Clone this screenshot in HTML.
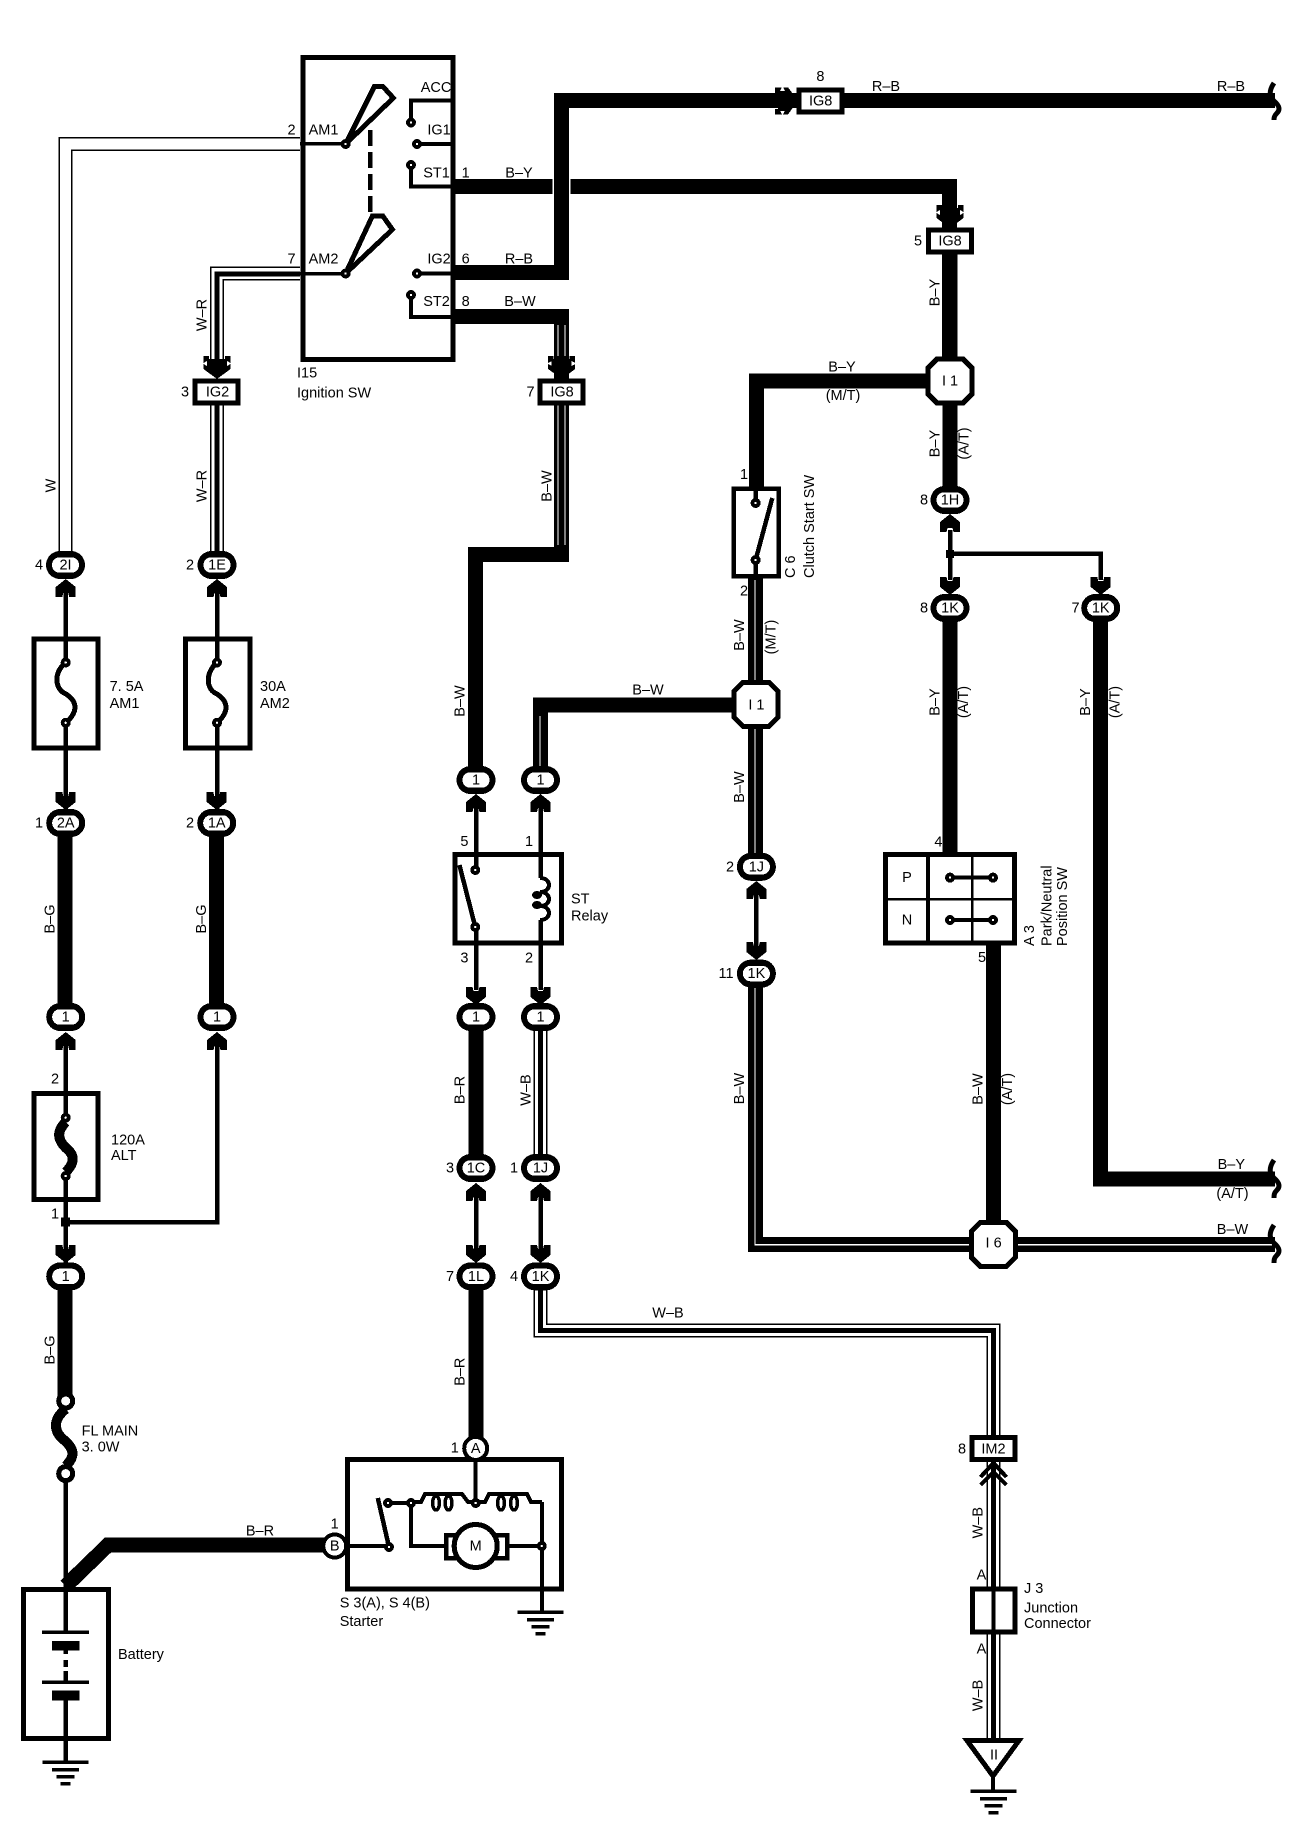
<!DOCTYPE html>
<html><head><meta charset="utf-8"><style>
html,body{margin:0;padding:0;background:#fff}
svg{display:block}
text{font-family:"Liberation Sans",sans-serif;font-size:14.5px;fill:#000;stroke:none;text-anchor:middle;dominant-baseline:central}
text.l{text-anchor:start}
.n{fill:none;stroke:#000;stroke-linejoin:miter}
.th{stroke-width:4.5}
.k{stroke-width:15}
.o{stroke-width:14}
.w{fill:none;stroke:#fff;stroke-width:11;stroke-linejoin:miter}
.c{stroke-width:5}
.s{fill:none;stroke:#fff;stroke-width:1.4;stroke-linejoin:miter}
.b{fill:#fff;stroke:#000;stroke-width:5}
</style></head><body>
<svg xmlns="http://www.w3.org/2000/svg" width="1312" height="1830" viewBox="0 0 1312 1830" shape-rendering="crispEdges">
<defs>
<g id="au"><polygon fill="#000" points="0,0 10,8 10,18 3.5,18 2.5,14 -2.5,14 -3.5,18 -10,18 -10,8"/></g>
<g id="ad"><polygon fill="#000" points="0,0 10,-8 10,-18 3.5,-18 2.5,-14 -2.5,-14 -3.5,-18 -10,-18 -10,-8"/></g>
<g id="dd"><path fill="#000" d="M0,0L13.5,-10V-15L10,-13V-18L13.5,-16V-23H8V-20H-8V-23H-13.5V-16L-10,-18V-13L-13.5,-15V-10Z"/></g>
<g id="ov"><rect x="-19.5" y="-14" width="39" height="28" rx="14" fill="#000"/><rect x="-13.5" y="-7.7" width="27" height="15.4" rx="7.5" fill="#fff"/></g>
<g id="bx"><rect x="-21.5" y="-11" width="43" height="22" class="b"/></g>
<g id="oc"><polygon class="b" points="-13,-22 13,-22 22,-13 22,13 13,22 -13,22 -22,13 -22,-13"/></g>
<g id="dt"><circle r="5" fill="#000"/><circle r="1.2" fill="#fff"/></g>
<g id="gd"><rect x="-23" y="-1.5" width="46" height="3.5" fill="#000"/><rect x="-13.5" y="6" width="27" height="3.5" fill="#000"/><rect x="-9" y="13" width="18" height="3.5" fill="#000"/><rect x="-5" y="20" width="10" height="3.5" fill="#000"/></g>
</defs>

<!-- W wire -->
<path class="n o" d="M300,144H65.7V552"/><path class="w" d="M300,144H65.7V552"/>
<!-- W-R wire -->
<path class="n o" d="M300,273.5H217V360"/><path class="w" d="M300,273.5H217V360"/><path class="n c" d="M300,274H217V360"/>
<path class="n o" d="M217,400V552"/><path class="w" d="M217,400V552"/><path class="n c" d="M217,400V552"/>

<!-- thin wires left -->
<path class="n th" d="M65.7,590V810M217,590V810M65.7,1040V1265M217,1040V1222H65.7"/>
<!-- B-G -->
<path class="n k" d="M65,823V1017M216.7,823V1017M65,1276V1396"/>
<path class="n th" d="M65.7,1470V1590"/>

<!-- R-B thick -->
<path class="n k" d="M452,272.7H561.7V100.6H800"/>
<path class="n k" d="M840,100.6H1275"/>
<!-- B-Y thick: with gap across vertical -->
<path class="n k" d="M452,186.3H552.5"/>
<path class="n k" d="M570.5,186.3H949.3V360"/>
<path class="n k" d="M950,250V400M950,400V510"/>
<path class="n k" d="M950,381H756.5V490"/>
<!-- B-W from ST2 -->
<path class="n k" d="M452,316.4H561.7V554.5H475.5V780"/>
<path class="s" d="M558,325V356M565,325V356M558,405V545M565,405V545"/>
<!-- Clutch lower to I1 -->
<path class="n k" d="M755.6,575V866"/><path class="s" d="M755,578V682M755,728V855"/>
<!-- I1 to relay -->
<path class="n k" d="M735,705H540.7V780"/><path class="s" d="M540,716V770"/>
<!-- 1K to I6 -->
<path class="n k" d="M755.6,974V1244.7H1275"/><path class="s" d="M755,988V1244.7H1272"/>
<!-- A/T -->
<path class="n k" d="M950,608V855"/>
<path class="n k" d="M1100.7,608V1179H1275"/>
<path class="n k" d="M993.4,943V1225"/>
<!-- thin 1H-1K -->
<path class="n th" d="M950,530V580M950,553.6H1100.7V580"/>
<rect x="946" y="550" width="8" height="8" fill="#000"/>
<!-- thin 1J-1K -->
<path class="n th" d="M756,895V946"/>
<!-- relay thin -->
<path class="n th" d="M476,808V990M540.5,808V990M476,1195V1250M540.5,1195V1250"/>
<!-- B-R -->
<path class="n k" d="M476,1017V1168M476,1276V1440"/>
<!-- W-B -->
<path class="n o" d="M540.5,1017V1168"/><path class="w" d="M540.5,1017V1168"/><path class="n c" d="M540.5,1017V1168"/>
<path class="n o" d="M540.5,1285V1330.5H993.5V1440"/><path class="w" d="M540.5,1285V1330.5H993.5V1440"/><path class="n c" d="M540.5,1285V1330.5H993.5V1440"/>
<path class="n o" d="M993.5,1460V1740"/><path class="w" d="M993.5,1460V1740"/><path class="n c" d="M993.5,1460V1740"/>
<!-- Battery wire -->
<path class="n k" d="M65.7,1586L108,1545H325"/>

<!-- Ignition switch -->
<rect x="303" y="57.5" width="150" height="302" fill="none" stroke="#000" stroke-width="5"/>
<path class="n" stroke-width="3.5" d="M300,143.5H345.6M300,273.5H345.6"/>
<polygon fill="#fff" stroke="#000" stroke-width="5" points="345.6,144 374.4,86.4 382.8,86.4 393.3,98"/>
<polygon fill="#fff" stroke="#000" stroke-width="5" points="345.6,273.5 372.4,216 382.8,216 392.4,229.5"/>
<use href="#dt" x="345.6" y="144"/><use href="#dt" x="345.6" y="273.5"/>
<path class="n" stroke-width="4.5" stroke-dasharray="16 6" d="M370,130V212"/>
<path class="n" stroke-width="4" d="M452,100.4H411V122.5M417,144H452M411,165V186.7H452M417,273.5H452M411,295V317H452"/>
<use href="#dt" x="411" y="122.5"/><use href="#dt" x="417" y="144"/><use href="#dt" x="411" y="165"/><use href="#dt" x="417" y="273.5"/><use href="#dt" x="411" y="295"/>
<text x="291.6" y="130.5">2</text><text x="291.6" y="259.5">7</text>
<text x="323.5" y="130.5">AM1</text><text x="323.5" y="259.5">AM2</text>
<text x="436" y="88">ACC</text><text x="439" y="130.5">IG1</text><text x="436.5" y="173.5">ST1</text><text x="439" y="259.5">IG2</text><text x="436.5" y="302">ST2</text>
<text x="465.7" y="173.5">1</text><text x="465.7" y="259.5">6</text><text x="465.7" y="302">8</text>
<text x="519" y="173.5">B–Y</text><text x="519" y="259.5">R–B</text><text x="520" y="302">B–W</text>
<text class="l" x="297" y="373.5">I15</text><text class="l" x="297" y="393.5">Ignition SW</text>

<!-- Connector arrows -->
<use href="#dd" x="217" y="379"/><use href="#dd" x="561.7" y="379"/><use href="#dd" x="950" y="228"/>
<use href="#dd" transform="translate(798,100.8) rotate(-90)"/>
<use href="#bx" x="216.5" y="392"/><use href="#bx" x="561.7" y="392"/><use href="#bx" x="950" y="241"/><use href="#bx" x="820.7" y="100.8"/><use href="#bx" x="993.5" y="1448.5"/>
<text x="217.5" y="392.5">IG2</text><text x="185" y="392.5">3</text>
<text x="562" y="392.5">IG8</text><text x="530.5" y="392.5">7</text>
<text x="950" y="241.5">IG8</text><text x="918" y="241.5">5</text>
<text x="820.7" y="101.3">IG8</text><text x="820.4" y="77">8</text>
<text x="993.5" y="1449.5">IM2</text><text x="962" y="1449.5">8</text>
<text x="886" y="87">R–B</text><text x="1231" y="87">R–B</text>

<!-- Octagons -->
<use href="#oc" x="950" y="381"/><use href="#oc" x="756" y="704.4"/><use href="#oc" x="993.4" y="1244.4"/>
<text x="950" y="381.5">I 1</text><text x="756.4" y="705.5">I 1</text><text x="993.6" y="1243.5">I 6</text>

<!-- Ovals -->
<use href="#ov" x="65.5" y="565"/><use href="#au" x="65.7" y="579"/><text x="65.5" y="565.5">2I</text><text x="39" y="565.5">4</text>
<use href="#ov" x="217" y="565"/><use href="#au" x="217" y="579"/><text x="217" y="565.5">1E</text><text x="190" y="565.5">2</text>
<use href="#ov" x="65.7" y="823"/><use href="#ad" x="65.7" y="810"/><text x="65.7" y="823.5">2A</text><text x="39" y="823.5">1</text>
<use href="#ov" x="216.7" y="823"/><use href="#ad" x="216.7" y="810"/><text x="216.7" y="823.5">1A</text><text x="190" y="823.5">2</text>
<use href="#ov" x="65.7" y="1017"/><use href="#au" x="65.7" y="1032"/><text x="65.7" y="1017.5">1</text>
<use href="#ov" x="217" y="1017"/><use href="#au" x="217" y="1032"/><text x="217" y="1017.5">1</text>
<use href="#ov" x="65.7" y="1276.4"/><use href="#ad" x="65.7" y="1263"/><text x="65.7" y="1277">1</text>
<use href="#ov" x="476" y="780"/><use href="#au" x="476" y="794"/><text x="476" y="780.5">1</text>
<use href="#ov" x="540.5" y="780"/><use href="#au" x="540.5" y="794"/><text x="540.5" y="780.5">1</text>
<use href="#ov" x="476" y="1017"/><use href="#ad" x="476" y="1005"/><text x="476" y="1017.5">1</text>
<use href="#ov" x="540.5" y="1017"/><use href="#ad" x="540.5" y="1005"/><text x="540.5" y="1017.5">1</text>
<use href="#ov" x="476" y="1168"/><use href="#au" x="476" y="1183"/><text x="476" y="1168.5">1C</text><text x="450" y="1168.5">3</text>
<use href="#ov" x="540.5" y="1168"/><use href="#au" x="540.5" y="1183"/><text x="540.5" y="1168.5">1J</text><text x="514" y="1168.5">1</text>
<use href="#ov" x="476" y="1276.4"/><use href="#ad" x="476" y="1263"/><text x="476" y="1277">1L</text><text x="450" y="1277">7</text>
<use href="#ov" x="540.5" y="1276.4"/><use href="#ad" x="540.5" y="1263"/><text x="540.5" y="1277">1K</text><text x="514" y="1277">4</text>
<use href="#ov" x="950" y="500"/><use href="#au" x="950" y="514"/><text x="950" y="500.5">1H</text><text x="924" y="500.5">8</text>
<use href="#ov" x="950" y="608"/><use href="#ad" x="950" y="595"/><text x="950" y="608.5">1K</text><text x="924" y="608.5">8</text>
<use href="#ov" x="1100.7" y="608"/><use href="#ad" x="1100.7" y="595"/><text x="1100.7" y="608.5">1K</text><text x="1075.6" y="608.5">7</text>
<use href="#ov" x="756.4" y="866.8"/><use href="#au" x="756.4" y="881"/><text x="756.4" y="867.3">1J</text><text x="730" y="867.3">2</text>
<use href="#ov" x="756.4" y="973.6"/><use href="#ad" x="756.4" y="960"/><text x="756.4" y="974">1K</text><text x="726" y="974">11</text>

<!-- Fuses -->
<rect x="34" y="639" width="64" height="109" class="b"/>
<path class="n" stroke-width="4.5" d="M65.7,620V662M65.7,723V790"/>
<path class="n" stroke-width="5" d="M65.7,662C52,675 56,690 66,694C78,702 78,712 65.7,723"/>
<use href="#dt" x="65.7" y="662.5"/><use href="#dt" x="65.7" y="722.8"/>
<text class="l" x="109.6" y="687">7. 5A</text><text class="l" x="109.6" y="704">AM1</text>
<rect x="185.4" y="639" width="64.5" height="109" class="b"/>
<path class="n" stroke-width="4.5" d="M217,620V662M217,723V790"/>
<path class="n" stroke-width="5" d="M217,662C204,675 207,690 217,694C229,702 229,712 217,723"/>
<use href="#dt" x="217" y="662.5"/><use href="#dt" x="217" y="722.8"/>
<text class="l" x="260" y="687">30A</text><text class="l" x="260" y="704">AM2</text>
<rect x="34" y="1093.5" width="64" height="106" class="b"/>
<path class="n" stroke-width="4.5" d="M65.7,1048V1118M65.7,1176V1222"/>
<path class="n" stroke-width="10" d="M65.7,1122C56,1132 58,1140 66,1148C76,1156 74,1164 65.7,1172"/>
<use href="#dt" x="65.7" y="1117.7"/><use href="#dt" x="65.7" y="1176"/>
<text class="l" x="111" y="1140.5">120A</text><text class="l" x="111" y="1156">ALT</text>
<text x="55" y="1079.5">2</text><text x="55" y="1214.5">1</text>
<rect x="61" y="1217.5" width="9" height="9" fill="#000"/>

<!-- FL main -->
<path class="n" stroke-width="10" d="M65.7,1409C52,1420 54,1432 64,1440C76,1450 74,1458 65.7,1466"/>
<circle cx="65.7" cy="1401" r="7" fill="#fff" stroke="#000" stroke-width="5"/>
<circle cx="65.7" cy="1473.6" r="7" fill="#fff" stroke="#000" stroke-width="5"/>
<text class="l" x="81.6" y="1431.5">FL MAIN</text><text class="l" x="81.6" y="1447.5">3. 0W</text>

<!-- Battery -->
<rect x="23.5" y="1589.5" width="85" height="149" fill="#fff" stroke="#000" stroke-width="5"/>
<path class="n" stroke-width="4.5" d="M65.7,1587V1632M65.7,1650V1654M65.7,1660V1667M65.7,1671V1682M65.7,1700V1762"/>
<rect x="42" y="1630.5" width="47" height="3.5" fill="#000"/><rect x="52" y="1641" width="27.5" height="9.5" fill="#000"/>
<rect x="42" y="1680.5" width="47" height="3.5" fill="#000"/><rect x="52" y="1690.7" width="27.5" height="10" fill="#000"/>
<use href="#gd" x="65.7" y="1762"/>
<text class="l" x="118" y="1655">Battery</text>
<text x="260" y="1531.5">B–R</text>

<!-- Relay -->
<rect x="455.2" y="854.5" width="106.3" height="88.5" fill="#fff" stroke="#000" stroke-width="5"/>
<path class="n th" d="M476,850V870M476,927V950M540.5,850V878M540.5,920V950"/>
<path class="n" stroke-width="4.5" d="M459.4,865L475.3,927"/>
<path class="n" stroke-width="4" d="M540,878C552,878 552,892 540,892C552,892 552,906 540,906C552,906 552,920 540,920"/>
<ellipse cx="537" cy="895" rx="5" ry="4" fill="#000"/><ellipse cx="537" cy="905" rx="5" ry="4" fill="#000"/>
<use href="#dt" x="475.3" y="870"/><use href="#dt" x="475.3" y="927"/>
<text x="464.4" y="842">5</text><text x="529" y="842">1</text><text x="464.4" y="958.5">3</text><text x="529" y="958.5">2</text>
<text class="l" x="571" y="899.5">ST</text><text class="l" x="571" y="916.5">Relay</text>

<!-- Clutch -->
<rect x="733.5" y="488.5" width="45" height="87.5" fill="#fff" stroke="#000" stroke-width="4.5"/>
<path class="n th" d="M755.6,486V503M755.6,560V580"/>
<path class="n" stroke-width="4.5" d="M772.3,498L755.6,560"/>
<use href="#dt" x="755.6" y="503"/><use href="#dt" x="755.6" y="560"/>
<text x="744" y="475">1</text><text x="744" y="591.5">2</text>
<text class="l" transform="translate(791.2,578) rotate(-90)">C 6</text>
<text class="l" transform="translate(810,578) rotate(-90)">Clutch Start SW</text>

<!-- P/N switch -->
<rect x="885.3" y="854.5" width="129.2" height="88.5" fill="#fff" stroke="#000" stroke-width="5"/>
<path class="n" stroke-width="4" d="M928,852V945"/>
<path class="n" stroke-width="2.5" d="M972,852V945M885,899H1015"/>
<path class="n" stroke-width="4" d="M950,877.6H993M950,920H993"/>
<use href="#dt" x="950" y="877.6"/><use href="#dt" x="993" y="877.6"/><use href="#dt" x="950" y="920"/><use href="#dt" x="993" y="920"/>
<text x="907" y="878">P</text><text x="907" y="920.5">N</text>
<text x="938.4" y="842.5">4</text><text x="982" y="958">5</text>
<text class="l" transform="translate(1030,946) rotate(-90)">A 3</text>
<text class="l" transform="translate(1047.5,946) rotate(-90)">Park/Neutral</text>
<text class="l" transform="translate(1063.2,946) rotate(-90)">Position SW</text>

<!-- Starter -->
<rect x="347.5" y="1459.5" width="214" height="129.5" fill="#fff" stroke="#000" stroke-width="5"/>
<path class="n" stroke-width="4" d="M475.7,1457V1503M346,1546H389M388,1503H411V1546H444M507,1546H541.8M541.8,1502V1612"/>
<path class="n" stroke-width="4" d="M411,1502H421L425,1494H462L468,1502H485L489,1494H527L531,1502H541.8"/>
<ellipse cx="436" cy="1503" rx="3.5" ry="7" fill="#fff" stroke="#000" stroke-width="3.5"/>
<ellipse cx="448.5" cy="1503" rx="3.5" ry="7" fill="#fff" stroke="#000" stroke-width="3.5"/>
<ellipse cx="501" cy="1503" rx="3.5" ry="7" fill="#fff" stroke="#000" stroke-width="3.5"/>
<ellipse cx="514" cy="1503" rx="3.5" ry="7" fill="#fff" stroke="#000" stroke-width="3.5"/>
<path class="n" stroke-width="4.5" d="M377.8,1498L389,1547"/>
<use href="#dt" x="388" y="1503"/><use href="#dt" x="389" y="1547"/><use href="#dt" x="411" y="1503"/><use href="#dt" x="475.7" y="1503"/><use href="#dt" x="541.8" y="1546"/>
<rect x="446" y="1535" width="61" height="23" fill="#fff" stroke="#000" stroke-width="4.5"/>
<circle cx="475.7" cy="1546" r="21.5" fill="#fff" stroke="#000" stroke-width="5"/>
<text x="475.7" y="1546.5">M</text>
<circle cx="475.7" cy="1448.4" r="11.5" fill="#fff" stroke="#000" stroke-width="4"/><text x="475.7" y="1449">A</text>
<circle cx="334.7" cy="1546" r="11.5" fill="#fff" stroke="#000" stroke-width="4"/><text x="334.7" y="1546.5">B</text>
<text x="454.8" y="1448.5">1</text><text x="334.7" y="1524.5">1</text>
<text class="l" x="339.7" y="1603.5">S 3(A), S 4(B)</text><text class="l" x="339.7" y="1622">Starter</text>
<use href="#gd" x="540.5" y="1612"/>

<!-- J3 -->
<rect x="972.3" y="1589" width="42.5" height="43" fill="#fff" stroke="#000" stroke-width="5"/>
<path class="n" stroke-width="4" d="M993.5,1587V1634"/>
<path class="n" stroke-width="4" d="M980.5,1477L993.5,1463L1006.5,1477M980.5,1485L993.5,1472L1006.5,1485"/>
<text x="981.5" y="1575.3">A</text><text x="981.5" y="1649.5">A</text>
<text class="l" x="1024" y="1589">J 3</text><text class="l" x="1024" y="1608.5">Junction</text><text class="l" x="1024" y="1624">Connector</text>
<polygon fill="#fff" stroke="#000" stroke-width="5" points="967,1740.5 1019,1740.5 993,1776"/>
<text x="994" y="1755.5">II</text>
<path class="n" stroke-width="4" d="M993,1778V1791"/>
<use href="#gd" x="993.5" y="1791"/>

<!-- Brackets -->
<path class="n" stroke-width="5" shape-rendering="auto" d="M1274,83C1268,92 1270,97 1274,101C1280,106 1280,110 1277,113C1274,116 1274,118 1274,120"/>
<path class="n" stroke-width="5" shape-rendering="auto" d="M1274,1160C1268,1169 1270,1174 1274,1178C1280,1183 1280,1187 1277,1190C1274,1193 1274,1195 1274,1198"/>
<path class="n" stroke-width="5" shape-rendering="auto" d="M1274,1225C1268,1234 1270,1239 1274,1243C1280,1248 1280,1252 1277,1255C1274,1258 1274,1260 1274,1263"/>

<!-- Wire labels -->
<text transform="translate(51.5,485.5) rotate(-90)">W</text>
<text transform="translate(202.5,315) rotate(-90)">W–R</text>
<text transform="translate(202.5,486) rotate(-90)">W–R</text>
<text transform="translate(547.5,486) rotate(-90)">B–W</text>
<text transform="translate(460.5,701) rotate(-90)">B–W</text>
<text x="648" y="690.5">B–W</text>
<text transform="translate(50.5,919) rotate(-90)">B–G</text>
<text transform="translate(202,919) rotate(-90)">B–G</text>
<text transform="translate(50.5,1350) rotate(-90)">B–G</text>
<text transform="translate(460.5,1090) rotate(-90)">B–R</text>
<text transform="translate(526.5,1090) rotate(-90)">W–B</text>
<text transform="translate(460.5,1371.7) rotate(-90)">B–R</text>
<text transform="translate(935.5,292.5) rotate(-90)">B–Y</text>
<text x="842" y="367.5">B–Y</text><text x="843" y="396">(M/T)</text>
<text transform="translate(935.5,443.5) rotate(-90)">B–Y</text>
<text transform="translate(964.5,443.5) rotate(-90)">(A/T)</text>
<text transform="translate(740.2,635) rotate(-90)">B–W</text>
<text transform="translate(771.5,637) rotate(-90)">(M/T)</text>
<text transform="translate(740.2,787) rotate(-90)">B–W</text>
<text transform="translate(740.2,1088.5) rotate(-90)">B–W</text>
<text transform="translate(935.5,702) rotate(-90)">B–Y</text>
<text transform="translate(964,702) rotate(-90)">(A/T)</text>
<text transform="translate(1086.2,702) rotate(-90)">B–Y</text>
<text transform="translate(1115.5,702) rotate(-90)">(A/T)</text>
<text transform="translate(978.5,1089) rotate(-90)">B–W</text>
<text transform="translate(1008,1089) rotate(-90)">(A/T)</text>
<text x="1231.3" y="1165">B–Y</text><text x="1232.5" y="1194">(A/T)</text>
<text x="1232.5" y="1230">B–W</text>
<text x="668" y="1313.5">W–B</text>
<text transform="translate(978.5,1522.7) rotate(-90)">W–B</text>
<text transform="translate(978.5,1695.4) rotate(-90)">W–B</text>
</svg>
</body></html>
